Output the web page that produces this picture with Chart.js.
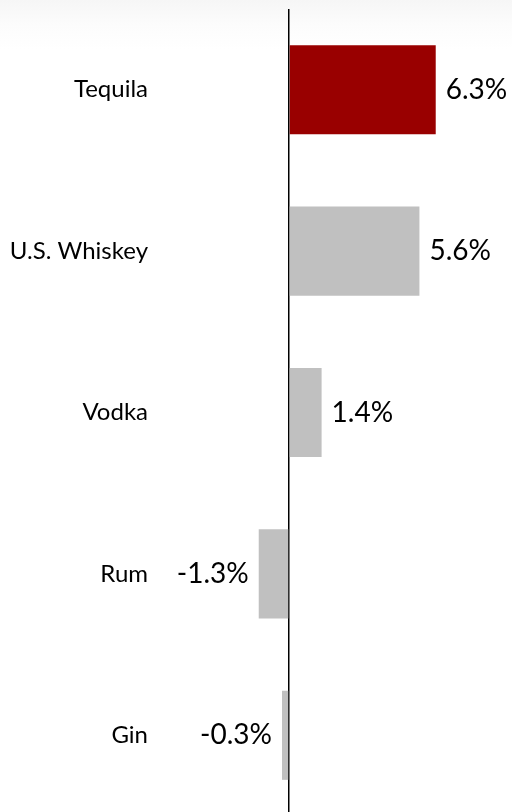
<!DOCTYPE html>
<html>
<head>
<meta charset="utf-8">
<script src="https://cdn.jsdelivr.net/npm/chart.js@4.4.1/dist/chart.umd.min.js"></script>
<style>
  html, body { margin: 0; padding: 0; overflow: hidden; }
  body { width: 512px; height: 812px; background: linear-gradient(#f6f6f6 0px, #fcfcfc 25px, #ffffff 50px); }
  #wrap { position: relative; width: 512px; height: 816px; }
</style>
</head>
<body>
<div id="wrap"><canvas id="c"></canvas></div>
<script>
const categories = ["Tequila", "U.S. Whiskey", "Vodka", "Rum", "Gin"];
const growth = [6.3, 5.6, 1.4, -1.3, -0.3];
const barColors = ["#990000", "#c0c0c0", "#c0c0c0", "#c0c0c0", "#c0c0c0"];

const valueLabels = {
  id: 'valueLabels',
  afterDatasetsDraw(chart) {
    const ctx = chart.ctx;
    const meta = chart.getDatasetMeta(0);
    ctx.save();
    ctx.font = '28px Lato';
    ctx.fillStyle = '#000';
    ctx.textBaseline = 'middle';
    meta.data.forEach((bar, i) => {
      const v = growth[i];
      const txt = v.toFixed(1) + '%';
      if (v >= 0) {
        ctx.textAlign = 'left';
        ctx.fillText(txt, bar.x + 10, bar.y);
      } else {
        ctx.textAlign = 'right';
        ctx.fillText(txt, bar.x - 10, bar.y);
      }
    });
    ctx.restore();
  }
};

new Chart(document.getElementById('c'), {
  type: 'bar',
  data: {
    labels: categories,
    datasets: [{
      data: growth,
      backgroundColor: barColors,
      borderWidth: 0,
      barPercentage: 0.552,
      categoryPercentage: 1.0
    }]
  },
  options: {
    indexAxis: 'y',
    responsive: true,
    maintainAspectRatio: false,
    animation: false,
    layout: { padding: { top: 9, bottom: 0, left: 0, right: 0 } },
    plugins: { legend: { display: false }, tooltip: { enabled: false } },
    scales: {
      x: {
        min: -5.539,
        max: 9.575,
        ticks: { display: false },
        border: { display: false },
        grid: {
          drawTicks: false,
          lineWidth: 1.5,
          color: (c) => (c.tick && c.tick.value === 0) ? '#000000' : 'rgba(0,0,0,0)'
        },
        afterBuildTicks(scale) {
          scale.ticks = [{ value: 0 }];
        },
        afterFit(scale) { scale.height = 0; scale.paddingLeft = 0; scale.paddingRight = 0; }
      },
      y: {
        grid: { display: false, drawTicks: false },
        border: { display: false },
        ticks: {
          padding: 12,
          color: '#000',
          font: { family: 'Lato', size: 24 }
        },
        afterFit(scale) {
          scale.width = 160;
          scale.paddingTop = 0;
          scale.paddingBottom = 0;
        }
      }
    }
  },
  plugins: [valueLabels]
});
</script>
</body>
</html>
